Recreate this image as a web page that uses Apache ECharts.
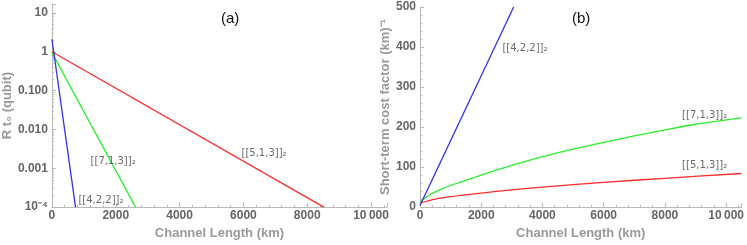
<!DOCTYPE html>
<html><head><meta charset="utf-8">
<script src="https://cdn.jsdelivr.net/npm/echarts@6/dist/echarts.min.js"></script>
<style>html,body{margin:0;padding:0;background:#fff}#c{width:747px;height:245px}</style>
</head><body><div id="c"></div>
<script>
// Left panel (a): R t0 vs channel length (log scale)
const leftRed = [[0, 1.0], [8520, 1e-4]];
const leftGreen = [[0, 0.95], [2620, 1e-4]];
const leftBlue = [[0, 2.1], [740, 1e-4]];
// Right panel (b): short-term cost factor
const rightBlue = [[0, 4], [3060, 500]];
const rightGreen = [[0, 12], [150, 22], [320, 31], [640, 43], [1000, 54], [1500, 67], [2000, 80], [3000, 104], [4000, 126], [5000, 145], [6000, 162], [7000, 178], [8000, 193], [9000, 207], [10500, 223]];
const rightRed = [[0, 10], [500, 20], [1000, 26], [2000, 35], [3000, 43], [4000, 50], [6000, 62], [8000, 72], [10500, 84]];
const xTickLabels = {0: '0', 2000: '2000', 4000: '4000', 6000: '6000', 8000: '8000', 10000: '10\u2009000'};
const logTickLabels = [[10, '10'], [1, '1'], [0.1, '0.100'], [0.01, '0.010'], [0.001, '0.001'], [0.0001, '10\u207B\u2074']];
const codeNames = ['[[5,1,3]]\u2082', '[[7,1,3]]\u2082', '[[4,2,2]]\u2082'];
const leftLabelPos = [[5910, 2.4e-3], [1180, 1.5e-3], [800, 1.5e-4]];
const rightLabelPos = [[8530, 105], [8530, 228], [2660, 397]];

const RED = '#ff2b2b', GREEN = '#2bef2b', BLUE = '#3030f5';
const axisCol = '#b8b8b8';
const tickLabelStyle = {color: '#666', fontWeight: 'bold', fontSize: 12, fontFamily: 'Liberation Sans, Arial, sans-serif'};
const nameStyle = {color: '#999', fontWeight: 'bold', fontSize: 13, fontFamily: 'Liberation Sans, Arial, sans-serif'};

function xAx(grid) {
  return {type: 'value', gridIndex: grid, min: 0, max: 10500, interval: 2000,
    name: 'Channel Length (km)', nameLocation: 'middle', nameGap: 16, nameTextStyle: nameStyle,
    axisLine: {lineStyle: {color: axisCol}}, axisTick: {inside: true, length: 4, lineStyle: {color: axisCol}},
    minorTick: {show: true, splitNumber: 5, length: 2, lineStyle: {color: axisCol}},
    splitLine: {show: false},
    axisLabel: Object.assign({margin: 3, formatter: v => xTickLabels[v] !== undefined ? xTickLabels[v] : ''}, tickLabelStyle)};
}
function series(xi, data, color) {
  return {type: 'line', xAxisIndex: xi, yAxisIndex: xi, data: data, showSymbol: false, symbol: 'none',
    smooth: xi === 1 ? 0.3 : false,
    lineStyle: {color: color, width: 1.3}, clip: true, animation: false};
}
function labels(xi, pos) {
  return {type: 'scatter', xAxisIndex: xi, yAxisIndex: xi, symbolSize: 2, itemStyle: {color: 'rgba(0,0,0,0)'}, silent: true, clip: false,
    data: pos.map((p, i) => ({value: p, name: codeNames[i]})),
    label: {show: true, position: 'right', distance: 0, formatter: p => p.name, color: '#444', fontSize: 10, fontFamily: 'DejaVu Sans, sans-serif'},
    labelLayout: {hideOverlap: false},
    z: 5};
}
const chart = echarts.init(document.getElementById('c'), null, {renderer: 'canvas'});
chart.setOption({
  animation: false,
  grid: [{left: 49, top: 4, width: 338, bottom: 36}, {left: 420, top: 7, right: 1, bottom: 36}],
  title: [
    {text: '(a)', left: 216, top: 6, textStyle: {fontSize: 15, fontWeight: 'normal', color: '#111', fontFamily: 'Liberation Sans, Arial, sans-serif'}},
    {text: '(b)', left: 567, top: 6, textStyle: {fontSize: 15, fontWeight: 'normal', color: '#111', fontFamily: 'Liberation Sans, Arial, sans-serif'}}
  ],
  xAxis: [xAx(0), xAx(1)],
  yAxis: [
    {type: 'log', gridIndex: 0, min: 1e-4, max: 17, logBase: 10,
      name: 'R t\u2080 (qubit)', nameLocation: 'middle', nameGap: 33, nameTextStyle: nameStyle,
      axisLine: {show: true, lineStyle: {color: axisCol}}, axisTick: {show: true, inside: true, length: 4, lineStyle: {color: axisCol}},
      minorTick: {show: true, splitNumber: 9, length: 2, lineStyle: {color: axisCol}},
      splitLine: {show: false},
      axisLabel: Object.assign({margin: 4, formatter: v => { for (const [k, s] of logTickLabels) { if (Math.abs(Math.log10(v) - Math.log10(k)) < 1e-6) return s; } return ''; }}, tickLabelStyle)},
    {type: 'value', gridIndex: 1, min: 0, max: 500, interval: 100,
      name: 'Short-term cost factor (km)\u207B\u00B9', nameLocation: 'middle', nameGap: 22, nameTextStyle: nameStyle,
      axisLine: {show: true, lineStyle: {color: axisCol}}, axisTick: {show: true, inside: true, length: 4, lineStyle: {color: axisCol}},
      minorTick: {show: true, splitNumber: 5, length: 2, lineStyle: {color: axisCol}},
      splitLine: {show: false},
      axisLabel: Object.assign({margin: 4}, tickLabelStyle)}
  ],
  series: [
    series(0, leftRed, RED), series(0, leftGreen, GREEN), series(0, leftBlue, BLUE),
    series(1, rightRed, RED), series(1, rightGreen, GREEN), series(1, rightBlue, BLUE),
    labels(0, leftLabelPos), labels(1, rightLabelPos)
  ]
});
</script></body></html>
